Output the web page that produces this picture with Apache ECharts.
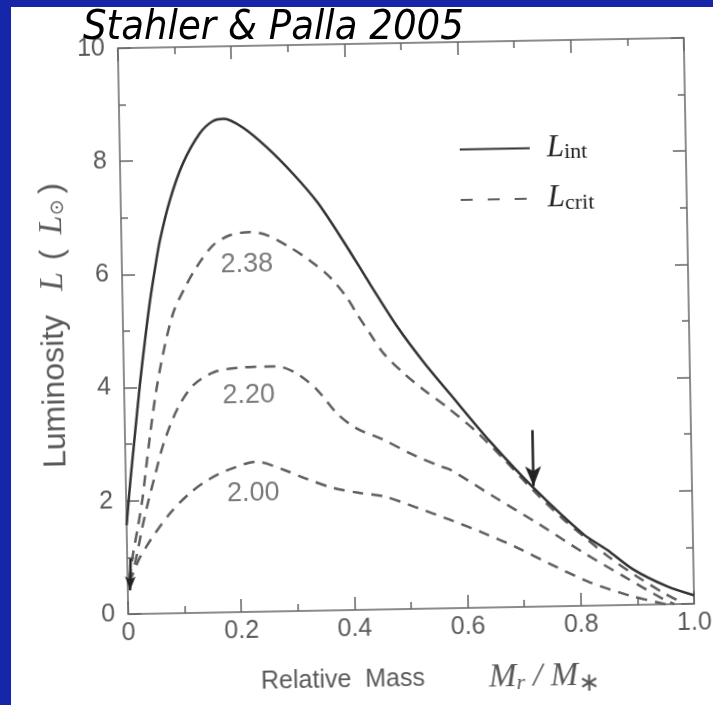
<!DOCTYPE html>
<html>
<head>
<meta charset="utf-8">
<script src="https://cdn.jsdelivr.net/npm/echarts@6/dist/echarts.min.js"></script>
<style>
  html, body { margin: 0; padding: 0; }
  body { width: 713px; height: 705px; background: #1526a8; position: relative; overflow: hidden; }
  #paper { position: absolute; left: 11px; top: 7px; right: 0; bottom: 0; background: #fff; }
  /* the scanned figure sits slightly rotated on the slide */
  #chart { position: absolute; left: 0; top: 0; width: 713px; height: 705px;
           transform-origin: 406px 326px; transform: rotate(-1.05deg); }
  #title { position: absolute; left: 0; top: 0; width: 713px; height: 70px; }
</style>
</head>
<body>
<div id="paper"></div>
<div id="chart"></div>
<div id="title"></div>
<script>
// tick labels
var xTicks = ['0', '0.2', '0.4', '0.6', '0.8', '1.0'];
var yTicks = ['0', '2', '4', '6', '8', '10'];

// L_int (solid)
var lInt = [[0, 1.57], [0.005, 2.06], [0.010, 2.52], [0.018, 3.2], [0.028, 4.05], [0.038, 4.8],
  [0.048, 5.49], [0.058, 6.07], [0.068, 6.59], [0.087, 7.30], [0.111, 7.94], [0.142, 8.47],
  [0.165, 8.68], [0.185, 8.72], [0.218, 8.56], [0.26, 8.20], [0.305, 7.73], [0.347, 7.22],
  [0.392, 6.52], [0.438, 5.75], [0.484, 5.0], [0.529, 4.37], [0.576, 3.78], [0.645, 2.93],
  [0.72, 2.10], [0.806, 1.27], [0.848, 0.98], [0.893, 0.63], [0.952, 0.32], [1.0, 0.15]];

// L_crit curves (dashed), labelled 2.38, 2.20, 2.00
var crit238 = [[0.003, 0.6], [0.011, 1.09], [0.020, 1.54], [0.029, 2.04], [0.035, 2.48], [0.045, 3.2],
  [0.056, 3.9], [0.070, 4.59], [0.089, 5.30], [0.108, 5.70], [0.132, 6.11], [0.162, 6.49],
  [0.192, 6.66], [0.227, 6.71], [0.257, 6.65], [0.297, 6.43], [0.332, 6.19], [0.367, 5.89],
  [0.396, 5.53], [0.413, 5.24], [0.436, 4.88], [0.459, 4.53], [0.494, 4.17], [0.529, 3.87],
  [0.569, 3.56], [0.622, 3.10], [0.67, 2.6], [0.72, 2.05], [0.77, 1.55], [0.81, 1.2],
  [0.85, 0.86], [0.9, 0.5], [0.95, 0.18], [0.98, 0.02]];
var crit220 = [[0.003, 0.55], [0.015, 0.95], [0.027, 1.5], [0.039, 1.98], [0.052, 2.45], [0.068, 3.0],
  [0.093, 3.6], [0.122, 4.02], [0.16, 4.25], [0.21, 4.32], [0.27, 4.33], [0.305, 4.2],
  [0.341, 3.9], [0.375, 3.48], [0.409, 3.21], [0.456, 3.0], [0.503, 2.75], [0.556, 2.51],
  [0.573, 2.45], [0.649, 1.96], [0.725, 1.48], [0.806, 0.94], [0.876, 0.51], [0.946, 0.09],
  [0.965, 0.0]];
var crit200 = [[0.003, 0.55], [0.02, 0.95], [0.035, 1.2], [0.05, 1.42], [0.08, 1.80], [0.113, 2.12],
  [0.146, 2.35], [0.18, 2.51], [0.232, 2.65], [0.279, 2.5], [0.32, 2.33], [0.367, 2.16],
  [0.41, 2.07], [0.455, 2.0], [0.51, 1.8], [0.572, 1.56], [0.63, 1.32], [0.689, 1.05],
  [0.747, 0.75], [0.817, 0.41], [0.888, 0.16], [0.934, 0.04], [0.95, 0]];

var curveLabelPos = [[0.221, 6.13], [0.22, 3.83], [0.225, 2.10]];
var curveLabelText = ['2.38', '2.20', '2.00'];

// arrows (start, tip) in data units
var arrowBig = [[0.72, 3.12], [0.72, 2.13]];
var arrowSmall = [[0.006, 0.98], [0.004, 0.42]];

var gray = '#595959';
var axisColor = '#666';

function frameAxis(pos, isX, showLabel) {
  var a = {
    type: 'value', position: pos, min: 0, max: isX ? 1 : 10, interval: isX ? 0.2 : 2,
    axisLine: { show: true, onZero: false, lineStyle: { color: axisColor, width: 1.5 } },
    axisTick: { show: true, inside: true, length: 13, lineStyle: { color: axisColor, width: 1.5 } },
    minorTick: { show: true, splitNumber: 2, length: 7, lineStyle: { color: axisColor, width: 1.5 } },
    splitLine: { show: false }, minorSplitLine: { show: false },
    axisLabel: { show: showLabel }
  };
  if (showLabel) {
    a.axisLabel = {
      show: true, color: gray, fontSize: 25, fontFamily: 'Liberation Sans',
      margin: isX ? 7 : 13, showMinLabel: true, showMaxLabel: true,
      formatter: function (v) {
        return isX ? xTicks[Math.round(v / 0.2)] : yTicks[Math.round(v / 2)];
      }
    };
  }
  return a;
}

var xMain = frameAxis('bottom', true, true);
xMain.name = '{t|Relative  Mass}{g| }{i|M}{si|r}{i| / M}{st|\u2217}';
xMain.nameLocation = 'middle';
xMain.nameGap = 50;
xMain.nameTextStyle = {
  padding: [0, 0, 0, 36],
  rich: {
    t: { fontFamily: 'Liberation Sans', fontSize: 25, color: gray },
    g: { fontSize: 25, width: 64 },
    i: { fontFamily: 'Liberation Serif', fontStyle: 'italic', fontSize: 33, color: gray },
    si: { fontFamily: 'Liberation Serif', fontStyle: 'italic', fontSize: 22, color: gray, padding: [11, 0, 0, 0] },
    st: { fontFamily: 'DejaVu Sans', fontSize: 26, color: gray, padding: [15, 0, 0, 0] }
  }
};

var yMain = frameAxis('left', false, true);
yMain.name = '{t|Luminosity}{g1| }{i|L}{g2| }{t|(}{g3| }{i|L}{o|\u2299}{g4| }{t|)}';
yMain.nameLocation = 'middle';
yMain.nameRotate = 90;
yMain.nameGap = 52;
yMain.nameTextStyle = {
  padding: [0, 0, 0, 14],
  rich: {
    t: { fontFamily: 'Liberation Sans', fontSize: 32, color: gray },
    g1: { fontSize: 20, width: 24 },
    g2: { fontSize: 20, width: 12 },
    g3: { fontSize: 20, width: 15 },
    g4: { fontSize: 20, width: 6 },
    i: { fontFamily: 'Liberation Serif', fontStyle: 'italic', fontSize: 34, color: gray },
    o: { fontFamily: 'DejaVu Sans', fontSize: 19, color: gray, padding: [12, 0, 0, 0] }
  }
};

function critSeries(data) {
  return {
    name: 'L_crit', type: 'line', data: data, symbol: 'none', showSymbol: false, smooth: 0.3,
    lineStyle: { color: '#5f5f5f', width: 2.5, type: [11, 8] }, itemStyle: { color: '#5f5f5f' }, z: 2
  };
}

var chart = echarts.init(document.getElementById('chart'));
chart.setOption({
  animation: false,
  grid: { left: 123, right: 24, top: 43, bottom: 95 },
  xAxis: [xMain, frameAxis('top', true, false)],
  yAxis: [yMain, frameAxis('right', false, false)],
  legend: {
    data: [{ name: 'L_int' }, { name: 'L_crit', lineStyle: { type: [12, 15] } }],
    orient: 'vertical', left: 457, top: 130,
    itemWidth: 70, itemHeight: 14, itemGap: 19,
    itemStyle: { color: 'rgba(0,0,0,0)', borderColor: 'rgba(0,0,0,0)', borderWidth: 0 },
    formatter: function (n) { return n === 'L_int' ? '{L|L}{s|int}' : '{L|L}{s|crit}'; },
    textStyle: {
      rich: {
        L: { fontFamily: 'Liberation Serif', fontStyle: 'italic', fontSize: 31, color: '#222', padding: [0, 0, 0, 12] },
        s: { fontFamily: 'Liberation Serif', fontSize: 22, color: '#222', padding: [10, 0, 0, 0] }
      }
    }
  },
  series: [
    {
      name: 'L_int', type: 'line', data: lInt, symbol: 'none', showSymbol: false, smooth: 0.3,
      lineStyle: { color: '#333', width: 2.5 }, itemStyle: { color: '#333' }, z: 3,
      markLine: {
        silent: true, symbol: ['none', 'arrow'], symbolSize: [12, 20],
        label: { show: false },
        lineStyle: { color: '#222', width: 2.5, type: 'solid' },
        data: [
          [{ coord: arrowBig[0] }, { coord: arrowBig[1] }],
          [{ coord: arrowSmall[0], symbolSize: [8, 14] }, { coord: arrowSmall[1], symbolSize: [8, 14] }]
        ]
      }
    },
    critSeries(crit238),
    critSeries(crit220),
    critSeries(crit200),
    {
      name: 'labels', type: 'scatter', data: curveLabelPos, symbolSize: 0, silent: true,
      label: {
        show: true, position: 'inside', color: gray, fontSize: 27, fontFamily: 'Liberation Sans',
        formatter: function (p) { return curveLabelText[p.dataIndex]; }
      }
    }
  ]
});

var title = echarts.init(document.getElementById('title'));
title.setOption({
  graphic: [{
    type: 'text', x: 83, y: 9, scaleX: 0.93,
    style: { text: 'Stahler & Palla 2005', font: 'italic 40px "DejaVu Sans"', fill: '#000' }
  }]
});
</script>
</body>
</html>
